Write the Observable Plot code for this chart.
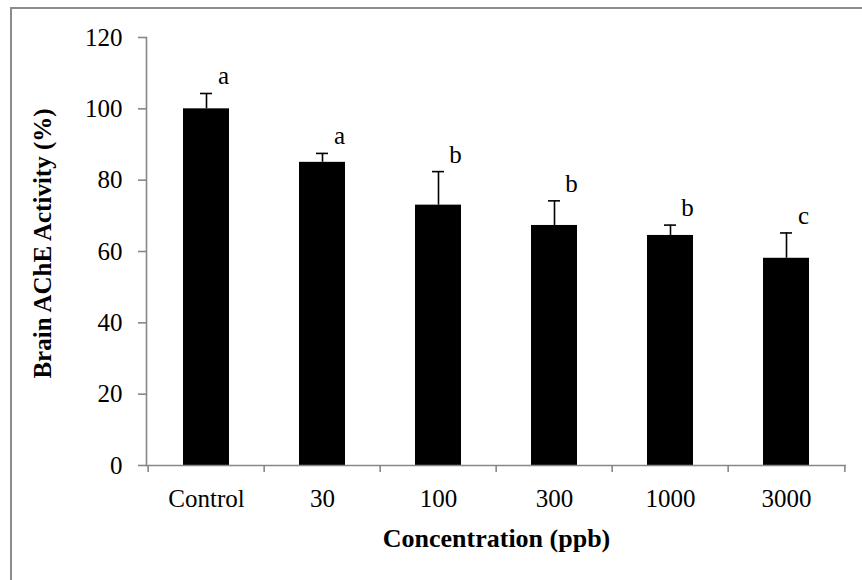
<!DOCTYPE html>
<html>
<head>
<meta charset="utf-8">
<script src="https://cdn.jsdelivr.net/npm/d3@7"></script>
<script src="https://cdn.jsdelivr.net/npm/@observablehq/plot@0.6"></script>
<style>
  html, body { margin: 0; padding: 0; background: #fff; }
  body { width: 862px; height: 580px; overflow: hidden; position: relative; }
  #chart-border { position: absolute; left: 10px; top: 7px; width: 900px; height: 700px;
                  border: 2px solid #8c8c8c; box-sizing: border-box; pointer-events: none; }
  #chart { position: absolute; left: 0; top: 0; }
</style>
</head>
<body>
<div id="chart"></div>
<div id="chart-border"></div>
<script>
// Brain AChE activity by exposure concentration
const categories = ["Control", "30", "100", "300", "1000", "3000"];
const activity = [100, 85, 73, 67.3, 64.5, 58.1];
const errorUp = [4.3, 2.5, 9.4, 6.9, 2.9, 7.1];
const groupLetters = ["a", "a", "b", "b", "b", "c"];
const yTicks = [0, 20, 40, 60, 80, 100, 120];
const xTitle = "Concentration (ppb)";
const yTitle = "Brain AChE Activity (%)";

const rows = categories.map((c, i) => ({
  conc: c, value: activity[i], err: errorUp[i], top: activity[i] + errorUp[i], letter: groupLetters[i]
}));

const W = 862, H = 580;
const mL = 146, mR = 16, mT = 37, mB = 115;
const step = (W - mL - mR) / categories.length;
const axisGray = "#878787";
const font = "'Liberation Serif', 'Times New Roman', serif";

const chart = Plot.plot({
  width: W,
  height: H,
  marginLeft: mL,
  marginRight: mR,
  marginTop: mT,
  marginBottom: mB,
  style: { fontFamily: font, fontSize: "25px", color: "#000", background: "transparent" },
  x: { domain: categories, paddingInner: 0.6, paddingOuter: 0.3, label: null },
  y: { domain: [0, 120], label: null },
  marks: [
    Plot.barY(rows, { x: "conc", y: "value", fill: "#000" }),
    Plot.ruleX(rows, { x: "conc", y1: "value", y2: "top", stroke: "#000", strokeWidth: 1.6 }),
    Plot.tickY(rows, { x: "conc", y: "top", stroke: "#000", strokeWidth: 1.6, insetLeft: 17, insetRight: 17 }),
    Plot.text(rows, { x: "conc", y: "top", text: "letter", dx: 17, dy: -9, lineAnchor: "bottom",
                      fontSize: 25, fill: "#000" }),
    // axis lines
    Plot.frame({ anchor: "left", stroke: axisGray, strokeWidth: 1.6 }),
    Plot.ruleY([0], { stroke: axisGray, strokeWidth: 1.6 }),
    // y axis ticks and labels
    Plot.axisY({ ticks: yTicks, tickSize: 8, tickPadding: 16, stroke: axisGray, strokeWidth: 1.6,
                 fill: "#000", fontSize: 25, label: null }),
    // x axis ticks sit between the categories
    Plot.axisX({ ticks: categories, tickSize: 7, tickFormat: () => "", dx: -step / 2,
                 stroke: axisGray, strokeWidth: 1.6, label: null }),
    Plot.axisX({ ticks: categories.slice(-1), tickSize: 7, tickFormat: () => "", dx: step / 2,
                 stroke: axisGray, strokeWidth: 1.6, label: null }),
    // category labels
    Plot.axisX({ ticks: categories, tickSize: 0, tickPadding: 24, fill: "#000", fontSize: 25, label: null }),
    // axis titles
    Plot.text([xTitle], { frameAnchor: "bottom", dy: 81, fontWeight: "bold", fontSize: 26, fill: "#000" }),
    Plot.text([yTitle], { frameAnchor: "left", textAnchor: "middle", dx: -104, dy: -8, rotate: -90,
                          fontWeight: "bold", fontSize: 25, fill: "#000" })
  ]
});
document.getElementById("chart").appendChild(chart);
</script>
</body>
</html>
